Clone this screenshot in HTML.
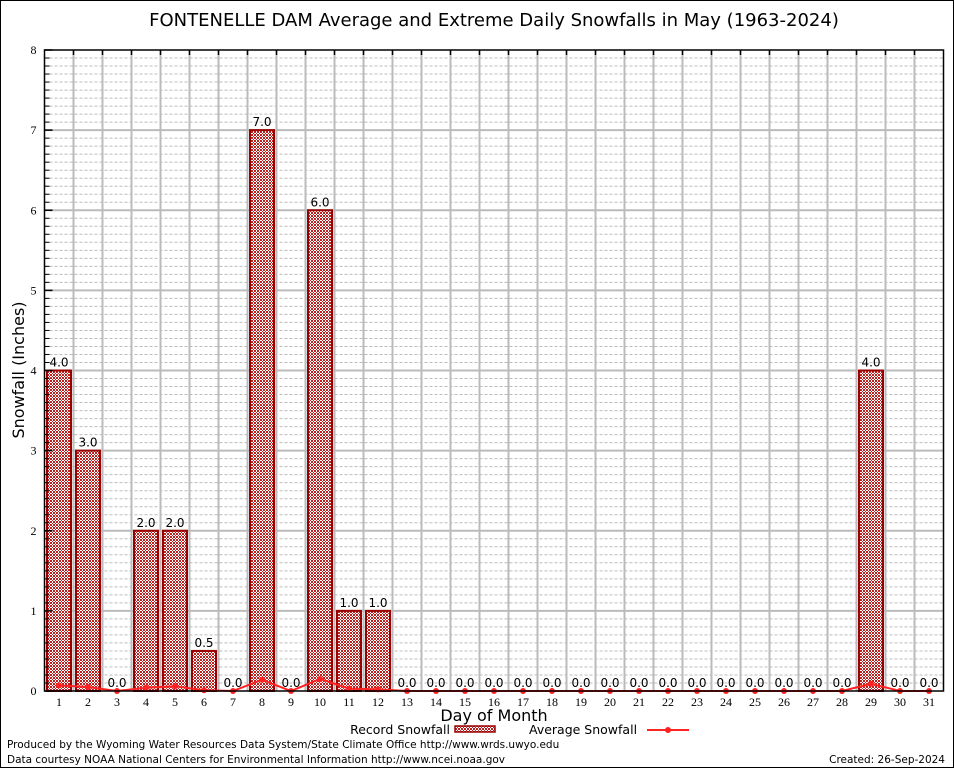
<!DOCTYPE html>
<html><head><meta charset="utf-8"><style>
body{margin:0;background:#fff}
svg{display:block;font-family:"DejaVu Sans","Liberation Sans",sans-serif}
</style></head><body>
<svg id="c" width="954" height="768" viewBox="0 0 954 768">
<defs>
<pattern id="hatch" width="3" height="3" patternUnits="userSpaceOnUse">
<rect width="3" height="3" fill="#fff"/>
<rect width="1" height="1" fill="#b22"/><rect x="2" y="0" width="1" height="1" fill="#b22"/><rect x="1" y="1" width="1" height="1" fill="#b22"/><rect x="0" y="2" width="1" height="1" fill="#b22"/><rect x="2" y="2" width="1" height="1" fill="#b22"/>
</pattern>
</defs>
<rect x="0.5" y="0.5" width="953" height="767" fill="#fff" stroke="#000"/>
<text x="494" y="26" font-size="18" text-anchor="middle" font-family="DejaVu Sans, sans-serif">FONTENELLE DAM Average and Extreme Daily Snowfalls in May (1963-2024)</text>
<g id="grid"></g>
<g id="bars"></g>
<g id="avg"></g>
<g id="axes"></g>
<text transform="translate(24,370) rotate(-90)" font-size="16" text-anchor="middle">Snowfall (Inches)</text>
<text x="494" y="721" font-size="16" text-anchor="middle">Day of Month</text>
<g>
<text x="450" y="734" font-size="12.5" text-anchor="end">Record Snowfall</text>
<rect x="455" y="726" width="40" height="6" fill="url(#hatch)" stroke="#900" stroke-width="1.5"/>
<text x="529" y="734" font-size="12.5">Average Snowfall</text>
<line x1="647" y1="730" x2="689" y2="730" stroke="#f22" stroke-width="2"/>
<circle cx="668" cy="730" r="3" fill="#f22"/>
</g>
<text x="7" y="748" font-size="10.5">Produced by the Wyoming Water Resources Data System/State Climate Office http://www.wrds.uwyo.edu</text>
<text x="7" y="763" font-size="10.5">Data courtesy NOAA National Centers for Environmental Information http://www.ncei.noaa.gov</text>
<text x="945" y="763" font-size="10.5" text-anchor="end">Created: 26-Sep-2024</text>
</svg>
<script>
const days=[1,2,3,4,5,6,7,8,9,10,11,12,13,14,15,16,17,18,19,20,21,22,23,24,25,26,27,28,29,30,31];
const recordSnow=[4,3,0,2,2,0.5,0,7,0,6,1,1,0,0,0,0,0,0,0,0,0,0,0,0,0,0,0,0,4,0,0];
const avgSnow=[0.07,0.05,0,0.04,0.06,0.01,0,0.14,0,0.15,0.03,0.02,0,0,0,0,0,0,0,0,0,0,0,0,0,0,0,0,0.09,0,0];
const yTicks=[0,1,2,3,4,5,6,7,8];
const L=44.5,R=943.5,T=50,B=691,yMax=8;
const NS='http://www.w3.org/2000/svg';
const xs=d=>L+(d-0.5)*(R-L)/days.length;
const ys=v=>B-v*(B-T)/yMax;
function mk(p,t,a){const e=document.createElementNS(NS,t);for(const k in a)e.setAttribute(k,a[k]);p.appendChild(e);return e;}
const grid=document.getElementById('grid'),bars=document.getElementById('bars'),avg=document.getElementById('avg'),axes=document.getElementById('axes');
for(let i=1;i<yMax*10;i++){if(i%10===0)continue;const y=ys(i/10);
const l=mk(grid,'line',{x1:L,x2:R,y1:y,y2:y,stroke:'#bbb','stroke-dasharray':'3,2','stroke-width':1});


const tk=mk(axes,'line',{x1:L,x2:L+5,y1:y,y2:y,stroke:'#000'});

}
yTicks.forEach(v=>{const y=ys(v);
if(v>0&&v<yMax){const l=mk(grid,'line',{x1:L,x2:R,y1:y,y2:y,stroke:'#bbb','stroke-width':2});

}
const tk=mk(axes,'line',{x1:L,x2:L+8,y1:y,y2:y,stroke:'#000','stroke-width':1.5});


const t=mk(axes,'text',{x:L-8,y:y+4,'font-size':12,'text-anchor':'end','font-family':'Liberation Serif, serif'});t.textContent=v;

});
days.forEach((d,i)=>{const x=xs(d);
if(i>0){const bx=x-(R-L)/days.length/2;const g=mk(grid,'line',{x1:bx,x2:bx,y1:T,y2:B,stroke:'#bbb','stroke-width':2});


const tk=mk(axes,'line',{x1:bx,x2:bx,y1:T,y2:T+5,stroke:'#000','stroke-width':1.5});

}
const t=mk(axes,'text',{x:x,y:B+15,'font-size':12,'text-anchor':'middle','font-family':'Liberation Serif, serif'});t.textContent=d;


const v=recordSnow[i];
if(v>0){const r=mk(bars,'rect',{x:x-12,y:ys(v),width:24,height:B-ys(v),fill:'url(#hatch)',stroke:'#900','stroke-width':2});

}
const lb=mk(bars,'text',{x:x,y:ys(v)-4,'font-size':12,'text-anchor':'middle'});lb.textContent=v.toFixed(1);

});
const pl=mk(avg,'polyline',{points:days.map((d,i)=>xs(d)+','+ys(avgSnow[i])).join(' '),fill:'none',stroke:'#f22','stroke-width':2});


days.forEach((d,i)=>{const c=mk(avg,'circle',{cx:xs(d),cy:ys(avgSnow[i]),r:3,fill:'#f22'});

});
const fr=mk(axes,'rect',{x:L,y:T,width:R-L,height:B-T,fill:'none',stroke:'#000','stroke-width':1.5});


</script>
</body></html>
